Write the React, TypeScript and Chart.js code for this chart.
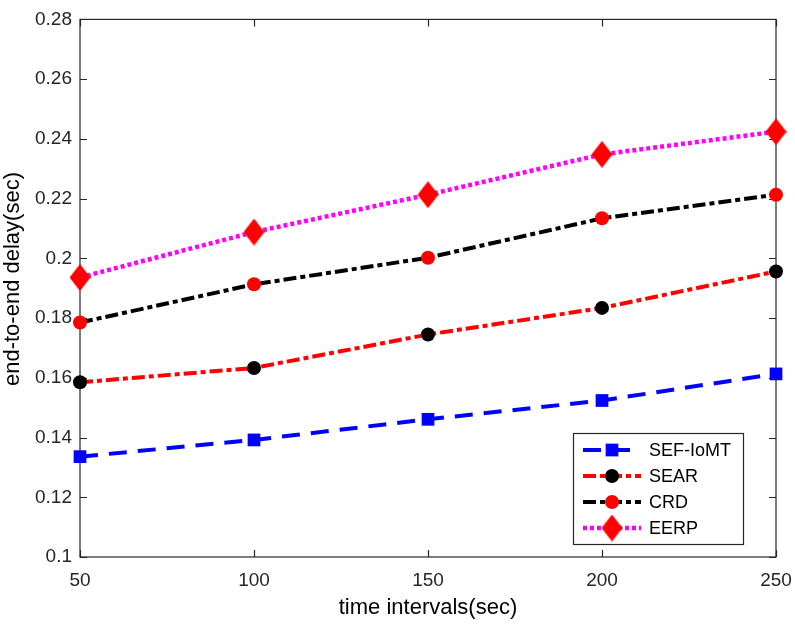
import React, { useEffect, useRef } from "react";
import { Chart, registerables } from "chart.js";

Chart.register(...registerables);

const timeIntervals = [50, 100, 150, 200, 250];
const sefIoMT = [0.1336, 0.1392, 0.1461, 0.1524, 0.1613];
const sear = [0.1585, 0.1633, 0.1745, 0.1834, 0.1956];
const crd = [0.1785, 0.1913, 0.2002, 0.2134, 0.2213];
const eerp = [0.1936, 0.2088, 0.2213, 0.2348, 0.2424];
const seriesNames = ["SEF-IoMT", "SEAR", "CRD", "EERP"];
const yTickValues = [0.1, 0.12, 0.14, 0.16, 0.18, 0.2, 0.22, 0.24, 0.26, 0.28];
const xTickValues = [50, 100, 150, 200, 250];

const FONT = "'Liberation Sans', Arial, Helvetica, sans-serif";
const AXIS_COLOR = "#262626";

function makeDiamond(w: number, h: number, color: string) {
  const c = document.createElement("canvas");
  c.width = w;
  c.height = h;
  const g = c.getContext("2d")!;
  g.fillStyle = color;
  g.beginPath();
  g.moveTo(w / 2, 0);
  g.lineTo(w, h / 2);
  g.lineTo(w / 2, h);
  g.lineTo(0, h / 2);
  g.closePath();
  g.fill();
  return c;
}

export default function App() {
  const ref = useRef<HTMLCanvasElement>(null);

  useEffect(() => {
    const diamond = makeDiamond(21, 27, "#ff0000");

    const boxPlugin = {
      id: "matlabBox",
      beforeDatasetsDraw(chart: any) {
        const { ctx, chartArea: a, scales } = chart;
        ctx.save();
        ctx.strokeStyle = AXIS_COLOR;
        ctx.lineWidth = 1.2;
        ctx.strokeRect(a.left, a.top, a.right - a.left, a.bottom - a.top);
        const tl = 7;
        ctx.beginPath();
        yTickValues.forEach((v) => {
          const y = Math.round(scales.y.getPixelForValue(v)) + 0.5;
          ctx.moveTo(a.left, y);
          ctx.lineTo(a.left + tl, y);
          ctx.moveTo(a.right, y);
          ctx.lineTo(a.right - tl, y);
        });
        xTickValues.forEach((v) => {
          const x = Math.round(scales.x.getPixelForValue(v)) + 0.5;
          ctx.moveTo(x, a.bottom);
          ctx.lineTo(x, a.bottom - tl);
          ctx.moveTo(x, a.top);
          ctx.lineTo(x, a.top + tl);
        });
        ctx.stroke();
        ctx.restore();
      },
    };

    const legendPlugin = {
      id: "matlabLegend",
      afterDatasetsDraw(chart: any) {
        const { ctx } = chart;
        const bx = 573, by = 433, bw = 170, bh = 111;
        ctx.save();
        ctx.fillStyle = "#ffffff";
        ctx.fillRect(bx, by, bw, bh);
        ctx.strokeStyle = AXIS_COLOR;
        ctx.lineWidth = 1.2;
        ctx.strokeRect(bx + 0.5, by + 0.5, bw, bh);
        const rowY = [450, 476, 502, 528];
        chart.data.datasets.forEach((ds: any, i: number) => {
          const y = rowY[i];
          ctx.save();
          ctx.strokeStyle = ds.borderColor;
          ctx.lineWidth = ds.borderWidth;
          ctx.setLineDash(ds.borderDash || []);
          ctx.beginPath();
          ctx.moveTo(583, y);
          ctx.lineTo(641, y);
          ctx.stroke();
          ctx.restore();
          const mx = 612;
          ctx.fillStyle = ds.pointBackgroundColor;
          if (ds.pointStyle === "rect") {
            const s = ds.pointRadius * Math.SQRT1_2;
            ctx.fillRect(mx - s, y - s, 2 * s, 2 * s);
          } else if (ds.pointStyle === "circle") {
            ctx.beginPath();
            ctx.arc(mx, y, ds.pointRadius, 0, Math.PI * 2);
            ctx.fill();
          } else {
            ctx.drawImage(diamond, mx - diamond.width / 2, y - diamond.height / 2);
          }
          ctx.fillStyle = "#000000";
          ctx.font = `18px ${FONT}`;
          ctx.textBaseline = "middle";
          ctx.textAlign = "left";
          ctx.fillText(seriesNames[i], 649, y + 1);
        });
        ctx.restore();
      },
    };

    const mk = (vals: number[]) => vals.map((v, i) => ({ x: timeIntervals[i], y: v }));

    const chart = new Chart(ref.current!, {
      type: "line",
      data: {
        datasets: [
          {
            label: seriesNames[0],
            data: mk(sefIoMT),
            borderColor: "#0000ff",
            borderWidth: 4,
            borderDash: [18, 11],
            pointStyle: "rect",
            pointRadius: 9,
            pointBackgroundColor: "#0000ff",
            pointBorderColor: "#0000ff",
            pointBorderWidth: 0,
            clip: false,
          },
          {
            label: seriesNames[1],
            data: mk(sear),
            borderColor: "#ff0000",
            borderWidth: 4,
            borderDash: [13, 4, 5, 4],
            pointStyle: "circle",
            pointRadius: 7,
            pointBackgroundColor: "#000000",
            pointBorderColor: "#000000",
            pointBorderWidth: 0,
            clip: false,
          },
          {
            label: seriesNames[2],
            data: mk(crd),
            borderColor: "#000000",
            borderWidth: 4,
            borderDash: [13, 4, 5, 4],
            pointStyle: "circle",
            pointRadius: 7,
            pointBackgroundColor: "#ff0000",
            pointBorderColor: "#ff0000",
            pointBorderWidth: 0,
            clip: false,
          },
          {
            label: seriesNames[3],
            data: mk(eerp),
            borderColor: "#ff00ff",
            borderWidth: 4.5,
            borderDash: [4, 3],
            pointStyle: diamond as any,
            pointRadius: 10,
            pointBackgroundColor: "#ff0000",
            pointBorderColor: "#ff0000",
            clip: false,
          },
        ],
      },
      options: {
        animation: false,
        responsive: false,
        layout: { padding: { top: 11, right: 19, left: 0, bottom: 0 } },
        plugins: { legend: { display: false }, tooltip: { enabled: false } },
        elements: { line: { tension: 0 } },
        scales: {
          x: {
            type: "linear",
            min: 50,
            max: 250,
            grid: { display: false, drawTicks: false },
            border: { display: false },
            afterFit: (s: any) => {
              s.height = 72;
              s.paddingLeft = 0;
              s.paddingRight = 0;
            },
            afterBuildTicks: (s: any) => {
              s.ticks = xTickValues.map((v) => ({ value: v }));
            },
            ticks: {
              padding: 12,
              color: AXIS_COLOR,
              font: { family: FONT, size: 19 },
              maxRotation: 0,
              callback: (v: any) => String(v),
            },
            title: {
              display: true,
              text: "time intervals(sec)",
              color: "#000000",
              font: { family: FONT, size: 22 },
              padding: { top: 0, bottom: 8 },
            },
          },
          y: {
            type: "linear",
            min: 0.1,
            max: 0.28,
            grid: { display: false, drawTicks: false },
            border: { display: false },
            afterFit: (s: any) => {
              s.width = 80;
            },
            afterBuildTicks: (s: any) => {
              s.ticks = yTickValues.map((v) => ({ value: v }));
            },
            ticks: {
              padding: 8,
              color: AXIS_COLOR,
              font: { family: FONT, size: 19 },
              callback: (v: any) => String(parseFloat(Number(v).toFixed(2))),
            },
            title: {
              display: true,
              text: "   end-to-end delay(sec)",
              color: "#000000",
              font: { family: FONT, size: 22 },
              padding: { top: 0, bottom: 0 },
            },
          },
        },
      },
      plugins: [boxPlugin, legendPlugin],
    } as any);

    return () => chart.destroy();
  }, []);

  return (
    <div style={{ position: "absolute", left: 0, top: 0, width: 795, height: 629, background: "#fff" }}>
      <canvas ref={ref} width={795} height={629} style={{ width: 795, height: 629, display: "block" }} />
    </div>
  );
}
